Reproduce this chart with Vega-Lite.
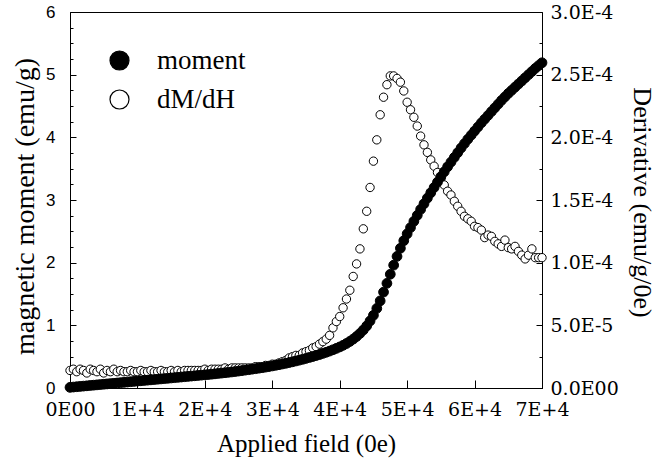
{
"$schema": "https://vega.github.io/schema/vega-lite/v6.json",
"width": 472,
"height": 376,
"autosize": {"type": "none"},
"padding": {"left": 70, "top": 12, "right": 114, "bottom": 81},
"background": "white",
"config": {
  "view": {"stroke": "black", "strokeWidth": 1},
  "axis": {"domainColor": "black", "tickColor": "black", "labelColor": "black", "titleColor": "black", "grid": false, "titleFontWeight": "normal", "labelFlush": false, "labelOverlap": false, "domainWidth": 1, "tickWidth": 1}
},
"datasets": {
"mom": [
{"H":0,"v":0.010},{"H":500,"v":0.015},{"H":1000,"v":0.020},{"H":1500,"v":0.025},{"H":2000,"v":0.030},{"H":2500,"v":0.035},{"H":3000,"v":0.040},{"H":3500,"v":0.045},{"H":4000,"v":0.050},{"H":4500,"v":0.055},
{"H":5000,"v":0.060},{"H":5500,"v":0.065},{"H":6000,"v":0.070},{"H":6500,"v":0.075},{"H":7000,"v":0.080},{"H":7500,"v":0.085},{"H":8000,"v":0.090},{"H":8500,"v":0.095},{"H":9000,"v":0.100},{"H":9500,"v":0.105},
{"H":10000,"v":0.110},{"H":10500,"v":0.115},{"H":11000,"v":0.120},{"H":11500,"v":0.125},{"H":12000,"v":0.130},{"H":12500,"v":0.135},{"H":13000,"v":0.140},{"H":13500,"v":0.145},{"H":14000,"v":0.150},{"H":14500,"v":0.155},
{"H":15000,"v":0.160},{"H":15500,"v":0.165},{"H":16000,"v":0.170},{"H":16500,"v":0.175},{"H":17000,"v":0.180},{"H":17500,"v":0.185},{"H":18000,"v":0.190},{"H":18500,"v":0.195},{"H":19000,"v":0.200},{"H":19500,"v":0.205},
{"H":20000,"v":0.210},{"H":20500,"v":0.215},{"H":21000,"v":0.220},{"H":21500,"v":0.226},{"H":22000,"v":0.232},{"H":22500,"v":0.238},{"H":23000,"v":0.244},{"H":23500,"v":0.250},{"H":24000,"v":0.256},{"H":24500,"v":0.263},
{"H":25000,"v":0.270},{"H":25500,"v":0.277},{"H":26000,"v":0.285},{"H":26500,"v":0.292},{"H":27000,"v":0.300},{"H":27500,"v":0.308},{"H":28000,"v":0.316},{"H":28500,"v":0.324},{"H":29000,"v":0.333},{"H":29500,"v":0.342},
{"H":30000,"v":0.352},{"H":30500,"v":0.362},{"H":31000,"v":0.372},{"H":31500,"v":0.383},{"H":32000,"v":0.394},{"H":32500,"v":0.406},{"H":33000,"v":0.418},{"H":33500,"v":0.431},{"H":34000,"v":0.444},{"H":34500,"v":0.458},
{"H":35000,"v":0.472},{"H":35500,"v":0.487},{"H":36000,"v":0.502},{"H":36500,"v":0.518},{"H":37000,"v":0.534},{"H":37500,"v":0.552},{"H":38000,"v":0.570},{"H":38500,"v":0.589},{"H":39000,"v":0.610},{"H":39500,"v":0.632},
{"H":40000,"v":0.655},{"H":40500,"v":0.681},{"H":41000,"v":0.710},{"H":41500,"v":0.743},{"H":42000,"v":0.780},{"H":42500,"v":0.822},{"H":43000,"v":0.870},{"H":43500,"v":0.925},{"H":44000,"v":0.990},{"H":44500,"v":1.070},
{"H":45000,"v":1.160},{"H":45500,"v":1.270},{"H":46000,"v":1.390},{"H":46500,"v":1.530},{"H":47000,"v":1.670},{"H":47500,"v":1.815},{"H":48000,"v":1.960},{"H":48500,"v":2.100},{"H":49000,"v":2.230},{"H":49500,"v":2.350},
{"H":50000,"v":2.460},{"H":50500,"v":2.560},{"H":51000,"v":2.660},{"H":51500,"v":2.755},{"H":52000,"v":2.850},{"H":52500,"v":2.940},{"H":53000,"v":3.030},{"H":53500,"v":3.115},{"H":54000,"v":3.200},{"H":54500,"v":3.285},
{"H":55000,"v":3.370},{"H":55500,"v":3.450},{"H":56000,"v":3.530},{"H":56500,"v":3.605},{"H":57000,"v":3.680},{"H":57500,"v":3.755},{"H":58000,"v":3.830},{"H":58500,"v":3.900},{"H":59000,"v":3.970},{"H":59500,"v":4.035},
{"H":60000,"v":4.100},{"H":60500,"v":4.165},{"H":61000,"v":4.230},{"H":61500,"v":4.290},{"H":62000,"v":4.350},{"H":62500,"v":4.410},{"H":63000,"v":4.470},{"H":63500,"v":4.530},{"H":64000,"v":4.590},{"H":64500,"v":4.645},
{"H":65000,"v":4.700},{"H":65500,"v":4.750},{"H":66000,"v":4.800},{"H":66500,"v":4.850},{"H":67000,"v":4.900},{"H":67500,"v":4.950},{"H":68000,"v":5.000},{"H":68500,"v":5.050},{"H":69000,"v":5.100},{"H":69500,"v":5.145},
{"H":70000,"v":5.190}
],
"der": [
{"H":0,"v":1.4e-5},{"H":500,"v":1.5e-5},{"H":1000,"v":1.3e-5},{"H":1500,"v":1.5e-5},{"H":2000,"v":1.4e-5},{"H":2500,"v":1.2e-5},{"H":3000,"v":1.5e-5},{"H":3500,"v":1.4e-5},{"H":4000,"v":1.3e-5},{"H":4500,"v":1.5e-5},
{"H":5000,"v":1.2e-5},{"H":5500,"v":1.4e-5},{"H":6000,"v":1.3e-5},{"H":6500,"v":1.5e-5},{"H":7000,"v":1.3e-5},{"H":7500,"v":1.4e-5},{"H":8000,"v":1.3e-5},{"H":8500,"v":1.3e-5},{"H":9000,"v":1.4e-5},{"H":9500,"v":1.3e-5},
{"H":10000,"v":1.3e-5},{"H":10500,"v":1.4e-5},{"H":11000,"v":1.3e-5},{"H":11500,"v":1.3e-5},{"H":12000,"v":1.4e-5},{"H":12500,"v":1.3e-5},{"H":13000,"v":1.3e-5},{"H":13500,"v":1.4e-5},{"H":14000,"v":1.3e-5},{"H":14500,"v":1.3e-5},
{"H":15000,"v":1.4e-5},{"H":15500,"v":1.3e-5},{"H":16000,"v":1.4e-5},{"H":16500,"v":1.3e-5},{"H":17000,"v":1.4e-5},{"H":17500,"v":1.4e-5},{"H":18000,"v":1.4e-5},{"H":18500,"v":1.4e-5},{"H":19000,"v":1.4e-5},{"H":19500,"v":1.4e-5},
{"H":20000,"v":1.5e-5},{"H":20500,"v":1.4e-5},{"H":21000,"v":1.5e-5},{"H":21500,"v":1.5e-5},{"H":22000,"v":1.5e-5},{"H":22500,"v":1.5e-5},{"H":23000,"v":1.6e-5},{"H":23500,"v":1.5e-5},{"H":24000,"v":1.6e-5},{"H":24500,"v":1.6e-5},
{"H":25000,"v":1.6e-5},{"H":25500,"v":1.6e-5},{"H":26000,"v":1.6e-5},{"H":26500,"v":1.6e-5},{"H":27000,"v":1.6e-5},{"H":27500,"v":1.7e-5},{"H":28000,"v":1.7e-5},{"H":28500,"v":1.7e-5},{"H":29000,"v":1.8e-5},{"H":29500,"v":1.8e-5},
{"H":30000,"v":1.9e-5},{"H":30500,"v":1.9e-5},{"H":31000,"v":2.0e-5},{"H":31500,"v":2.1e-5},{"H":32000,"v":2.2e-5},{"H":32500,"v":2.4e-5},{"H":33000,"v":2.5e-5},{"H":33500,"v":2.6e-5},{"H":34000,"v":2.6e-5},{"H":34500,"v":2.8e-5},
{"H":35000,"v":2.9e-5},{"H":35500,"v":3.0e-5},{"H":36000,"v":3.2e-5},{"H":36500,"v":3.3e-5},{"H":37000,"v":3.5e-5},{"H":37500,"v":3.7e-5},{"H":38000,"v":3.9e-5},{"H":38500,"v":4.2e-5},{"H":39000,"v":4.8e-5},{"H":39500,"v":5.3e-5},
{"H":40000,"v":5.7e-5},{"H":40500,"v":6.4e-5},{"H":41000,"v":7.1e-5},{"H":41500,"v":7.8e-5},{"H":42000,"v":8.9e-5},{"H":42500,"v":9.9e-5},{"H":43000,"v":1.11e-4},{"H":43500,"v":1.27e-4},{"H":44000,"v":1.41e-4},{"H":44500,"v":1.60e-4},
{"H":45000,"v":1.81e-4},{"H":45500,"v":1.98e-4},{"H":46000,"v":2.18e-4},{"H":46500,"v":2.32e-4},{"H":47000,"v":2.42e-4},{"H":47500,"v":2.49e-4},{"H":48000,"v":2.49e-4},{"H":48500,"v":2.47e-4},{"H":49000,"v":2.44e-4},{"H":49500,"v":2.37e-4},
{"H":50000,"v":2.28e-4},{"H":50500,"v":2.22e-4},{"H":51000,"v":2.16e-4},{"H":51500,"v":2.09e-4},{"H":52000,"v":2.01e-4},{"H":52500,"v":1.94e-4},{"H":53000,"v":1.88e-4},{"H":53500,"v":1.82e-4},{"H":54000,"v":1.77e-4},{"H":54500,"v":1.72e-4},
{"H":55000,"v":1.67e-4},{"H":55500,"v":1.62e-4},{"H":56000,"v":1.57e-4},{"H":56500,"v":1.54e-4},{"H":57000,"v":1.49e-4},{"H":57500,"v":1.45e-4},{"H":58000,"v":1.41e-4},{"H":58500,"v":1.37e-4},{"H":59000,"v":1.35e-4},{"H":59500,"v":1.33e-4},
{"H":60000,"v":1.29e-4},{"H":60500,"v":1.28e-4},{"H":61000,"v":1.26e-4},{"H":61500,"v":1.20e-4},{"H":62000,"v":1.22e-4},{"H":62500,"v":1.21e-4},{"H":63000,"v":1.17e-4},{"H":63500,"v":1.15e-4},{"H":64000,"v":1.13e-4},{"H":64500,"v":1.18e-4},
{"H":65000,"v":1.12e-4},{"H":65500,"v":1.11e-4},{"H":66000,"v":1.13e-4},{"H":66500,"v":1.09e-4},{"H":67000,"v":1.06e-4},{"H":67500,"v":1.03e-4},{"H":68000,"v":1.06e-4},{"H":68500,"v":1.11e-4},{"H":69000,"v":1.04e-4},{"H":69500,"v":1.04e-4},
{"H":70000,"v":1.04e-4}
]
},
"layer": [
  {
    "data": {"name": "der"},
    "mark": {"type": "point", "shape": "circle", "size": 70, "filled": true, "stroke": "black", "strokeWidth": 1, "opacity": 1, "clip": false},
    "encoding": {
      "x": {"field": "H", "type": "quantitative", "scale": {"domain": [0, 70000], "nice": false},
        "axis": {"orient": "bottom", "title": "Applied field (0e)", "values": [0,2500,5000,7500,10000,12500,15000,17500,20000,22500,25000,27500,30000,32500,35000,37500,40000,42500,45000,47500,50000,52500,55000,57500,60000,62500,65000,67500,70000],
          "labelExpr": "datum.value % 10000 === 0 ? (datum.value === 0 ? '0E00' : (datum.value/10000) + 'E+4') : ''",
          "tickSize": -8, "tickDash": {"condition": {"test": "datum.value % 10000 !== 0", "value": [4, 20]}, "value": [20, 0]},
          "labelFont": "DejaVu Serif", "labelFontSize": 19, "labelPadding": 20,
          "titleFont": "Liberation Serif", "titleFontSize": 25, "titleX": 236, "titleY": 63, "titleBaseline": "alphabetic", "titleAlign": "center", "titleAngle": 0}},
      "y": {"field": "v", "type": "quantitative", "scale": {"domain": [0, 0.0003], "nice": false},
        "axis": {"orient": "right", "title": "Derivative (emu/g/0e)", "values": [0,2.5e-5,5e-5,7.5e-5,1e-4,1.25e-4,1.5e-4,1.75e-4,2e-4,2.25e-4,2.5e-4,2.75e-4,3e-4],
          "labelExpr": "['0.0E00','','5.0E-5','','1.0E-4','','1.5E-4','','2.0E-4','','2.5E-4','','3.0E-4'][round(datum.value/2.5e-5)]",
          "tickSize": -6, "tickDash": {"condition": {"test": "round(datum.value/2.5e-5) % 2 === 1", "value": [3, 20]}, "value": [20, 0]},
          "labelFont": "DejaVu Serif", "labelFontSize": 19, "labelPadding": 14,
          "titleFont": "Liberation Serif", "titleFontSize": 26, "titleAngle": 90, "titleX": 91, "titleY": 190, "titleBaseline": "alphabetic", "titleAlign": "center"}},
      "fill": {"datum": "dM/dH", "type": "nominal", "scale": {"domain": ["moment", "dM/dH"], "range": ["black", "white"]},
        "legend": {"title": null, "orient": "none", "legendX": 36, "legendY": 35, "symbolType": "circle", "symbolSize": 361, "symbolStrokeColor": "black", "symbolStrokeWidth": 1.2, "symbolOpacity": 1, "labelFont": "Liberation Serif", "labelFontSize": 27, "labelColor": "black", "labelOffset": 24, "rowPadding": 11, "labelBaseline": "middle"}}
    }
  },
  {
    "data": {"name": "mom"},
    "mark": {"type": "point", "shape": "circle", "size": 95, "filled": true, "stroke": "black", "strokeWidth": 1, "opacity": 1, "clip": false},
    "encoding": {
      "x": {"field": "H", "type": "quantitative"},
      "y": {"field": "v", "type": "quantitative", "scale": {"domain": [0, 6], "nice": false},
        "axis": {"orient": "left", "title": "magnetic moment (emu/g)", "values": [0,0.25,0.5,0.75,1,1.25,1.5,1.75,2,2.25,2.5,2.75,3,3.25,3.5,3.75,4,4.25,4.5,4.75,5,5.25,5.5,5.75,6],
          "labelExpr": "datum.value % 1 === 0 ? format(datum.value, 'd') : ''",
          "tickSize": -6, "tickDash": {"condition": {"test": "datum.value % 1 !== 0", "value": [3, 20]}, "value": [20, 0]},
          "labelFont": "Liberation Sans", "labelFontSize": 17, "labelPadding": 21,
          "titleFont": "Liberation Serif", "titleFontSize": 28, "titleAngle": -90, "titleX": -37, "titleY": 194, "titleBaseline": "alphabetic", "titleAlign": "center"}},
      "fill": {"datum": "moment", "type": "nominal"}
    }
  }
],
"resolve": {"scale": {"y": "independent"}, "axis": {"y": "independent"}}
}
